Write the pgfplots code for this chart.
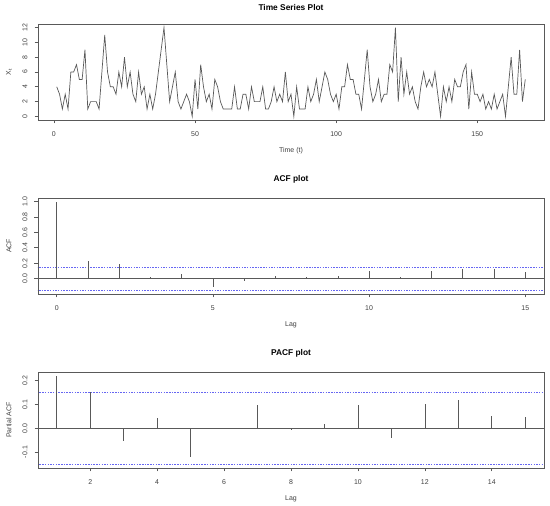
\documentclass[border=0pt]{standalone}
\usepackage{fontspec}
\setmainfont{Liberation Sans}
\usepackage{pgfplots}
\usepackage{pgfplotstable}
\pgfplotsset{compat=1.18}

\pgfplotstableread{
t x
1 4
2 3
3 1
4 3
5 1
6 6
7 6
8 7
9 5
10 5
11 9
12 1
13 2
14 2
15 2
16 1
17 6
18 11
19 6
20 4
21 4
22 3
23 6
24 4
25 8
26 4
27 6
28 3
29 2
30 6
31 3
32 4
33 1
34 3
35 1
36 3
37 6
38 9
39 12
40 7
41 2
42 4
43 6
44 2
45 1
46 2
47 3
48 2
49 0
50 5
51 1
52 7
53 4
54 2
55 3
56 1
57 5
58 4
59 2
60 1
61 1
62 1
63 1
64 4
65 1
66 1
67 3
68 3
69 1
70 4
71 2
72 2
73 2
74 4
75 1
76 1
77 2
78 4
79 2
80 3
81 2
82 6
83 2
84 3
85 0
86 4
87 1
88 1
89 1
90 4
91 2
92 3
93 5
94 2
95 4
96 6
97 5
98 3
99 2
100 3
101 1
102 4
103 4
104 7
105 5
106 5
107 3
108 3
109 1
110 5
111 9
112 4
113 2
114 3
115 5
116 2
117 3
118 3
119 7
120 6
121 12
122 2
123 8
124 3
125 6
126 3
127 4
128 2
129 1
130 4
131 6
132 4
133 5
134 4
135 6
136 3
137 0
138 4
139 2
140 4
141 2
142 5
143 4
144 4
145 6
146 7
147 1
148 6
149 3
150 3
151 2
152 3
153 1
154 2
155 1
156 3
157 1
158 2
159 3
160 0
161 4
162 8
163 3
164 3
165 9
166 2
167 5
}\tsdata

\pgfplotstableread{
lag acf
0 1.00
1 0.224
2 0.19
3 0.02
4 0.065
5 -0.11
6 -0.03
7 0.04
8 0.02
9 0.04
10 0.10
11 0.02
12 0.10
13 0.13
14 0.13
15 0.09
}\acfdata

\pgfplotstableread{
lag pacf
1 0.221
2 0.151
3 -0.054
4 0.043
5 -0.121
6 -0.003
7 0.097
8 -0.008
9 0.019
10 0.096
11 -0.042
12 0.100
13 0.118
14 0.050
15 0.047
}\pacfdata

\definecolor{rgray}{gray}{0.35}
\definecolor{rblue}{rgb}{0.4,0.4,0.95}

\pgfplotsset{
  rstyle/.style={
    scale only axis, width=506bp, height=96bp,
    axis line style={rgray, line width=0.7bp},
    tick style={rgray, line width=0.7bp},
    tick align=outside, major tick length=3.5bp,
    xtick pos=bottom, ytick pos=left,
    font=\fontsize{7}{8}\selectfont,
    /pgf/number format/assume math mode=true,
    yticklabel style={rotate=90, anchor=south, yshift=3.5bp, font=\fontsize{7}{8}\selectfont, text=black!75},
    xticklabel style={anchor=north, yshift=-5bp, font=\fontsize{7}{8}\selectfont, text=black!75},
    title style={at={(0.5,1)}, anchor=center, font=\bfseries\fontsize{8.4}{10}\selectfont},
    xlabel style={at={(0.5,0)}, anchor=center, yshift=-31bp, font=\fontsize{7}{8}\selectfont, text=black!75},
    ylabel style={at={(0,0.5)}, anchor=center, yshift=29bp, font=\fontsize{7}{8}\selectfont, text=black!75},
    every axis plot/.append style={line width=0.7bp},
    rdash/.style={rblue, no marks, line width=0.6bp, dash pattern=on 1.5bp off 1.2bp},
  }
}

\begin{document}
\begin{tikzpicture}
\path[use as bounding box] (0,0) rectangle (550bp,506bp);

\begin{axis}[rstyle, at={(38bp,386bp)}, anchor=south west,
  xmin=-5.64, xmax=173.64, ymin=-0.48, ymax=12.48,
  xtick={0,50,100,150}, ytick={0,2,4,6,8,10,12},
  title={Time Series Plot}, title style={yshift=11bp},
  xlabel={Time (t)}, ylabel={X\textsubscript{t}}]
\addplot[rgray, no marks] table[x=t, y=x] {\tsdata};
\end{axis}

\begin{axis}[rstyle, at={(38bp,212bp)}, anchor=south west,
  xmin=-0.6, xmax=15.6, ymin=-0.198, ymax=1.046,
  xtick={0,5,10,15}, ytick={0,0.2,0.4,0.6,0.8,1.0},
  yticklabel style={/pgf/number format/.cd, fixed, fixed zerofill, precision=1},
  title={ACF plot}, title style={yshift=13bp},
  xlabel={Lag}, ylabel={ACF}]
\addplot[rgray, no marks] coordinates {(-1,0) (17,0)};
\addplot[rdash] coordinates {(-1,0.1517) (17,0.1517)};
\addplot[rdash] coordinates {(-1,-0.1517) (17,-0.1517)};
\addplot[rgray, ycomb, no marks] table[x=lag, y=acf] {\acfdata};
\end{axis}

\begin{axis}[rstyle, at={(38bp,38bp)}, anchor=south west,
  xmin=0.44, xmax=15.56, ymin=-0.1666, ymax=0.236,
  xtick={2,4,6,8,10,12,14}, ytick={-0.1,0,0.1,0.2},
  yticklabel style={/pgf/number format/.cd, fixed, fixed zerofill, precision=1},
  title={PACF plot}, title style={yshift=13bp},
  xlabel={Lag}, ylabel={Partial ACF}]
\addplot[rgray, no marks] coordinates {(0,0) (17,0)};
\addplot[rdash] coordinates {(0,0.1517) (17,0.1517)};
\addplot[rdash] coordinates {(0,-0.1517) (17,-0.1517)};
\addplot[rgray, ycomb, no marks] table[x=lag, y=pacf] {\pacfdata};
\end{axis}
\end{tikzpicture}
\end{document}
